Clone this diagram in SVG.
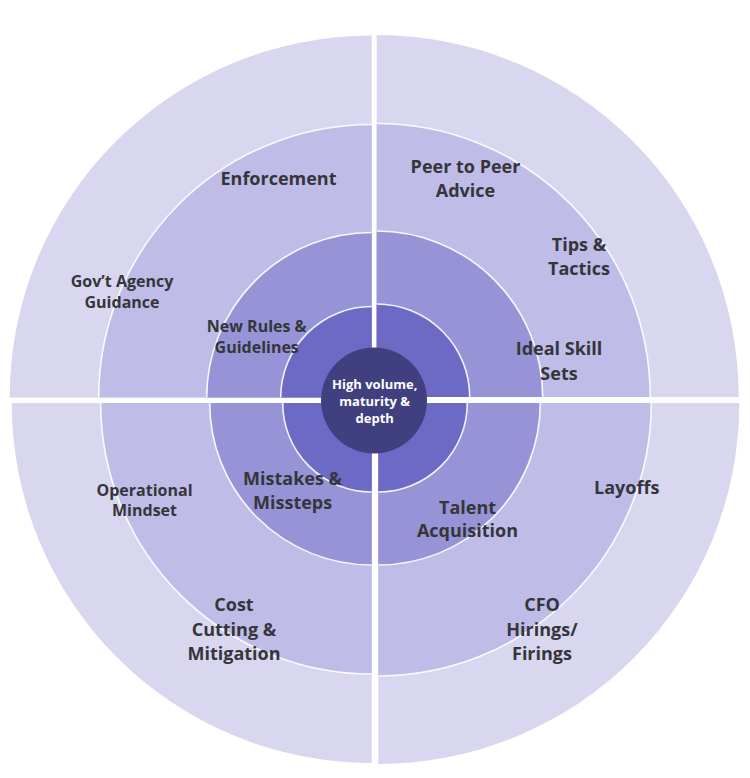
<svg xmlns="http://www.w3.org/2000/svg" width="750" height="778" viewBox="0 0 750 778">
<style>
.r1{fill:#d8d7ef}
.r2{fill:#bfbde7}
.r3{fill:#9694d6}
.r4{fill:#6c6ac4}
.b{fill:none;stroke:#ffffff;stroke-width:1.6;stroke-opacity:0.9}
.t{font-family:"Open Sans","Liberation Sans",sans-serif;font-weight:700;fill:#35353a;text-anchor:middle}
.lg{font-size:18px}
.sm{font-size:16px}
.c{font-family:"Open Sans","Liberation Sans",sans-serif;font-weight:700;fill:#ffffff;text-anchor:middle;font-size:13px}
</style>
<rect width="750" height="778" fill="#ffffff"/>
<g id="quadrant-top-left">
<path class="r1" d="M371.7 397.5 H9.7 A362 362 0 0 1 371.7 35.5 Z"/>
<path class="r2" d="M371.7 397.5 H98.7 A273 273 0 0 1 371.7 124.5 Z"/>
<path class="r3" d="M371.7 397.5 H206.7 A165 165 0 0 1 371.7 232.5 Z"/>
<path class="r4" d="M371.7 397.5 H280.7 A91 91 0 0 1 371.7 306.5 Z"/>
<path class="b" d="M98.7 397.5 A273 273 0 0 1 371.7 124.5 M206.7 397.5 A165 165 0 0 1 371.7 232.5 M280.7 397.5 A91 91 0 0 1 371.7 306.5"/>
<text class="t lg" x="278.5" y="185">Enforcement</text>
<text class="t sm" x="122" y="287">Gov’t Agency</text>
<text class="t sm" x="122" y="307.5">Guidance</text>
<text class="t sm" x="256.7" y="332">New Rules &amp;</text>
<text class="t sm" x="256.7" y="352.5">Guidelines</text>
</g>
<g id="quadrant-top-right">
<path class="r1" d="M376.7 397 V35 A362 362 0 0 1 738.7 397 Z"/>
<path class="r2" d="M376.7 397 V123.5 A273.5 273.5 0 0 1 650.2 397 Z"/>
<path class="r3" d="M376.7 397 V231 A166 166 0 0 1 542.7 397 Z"/>
<path class="r4" d="M376.7 397 V304 A93 93 0 0 1 469.7 397 Z"/>
<path class="b" d="M376.7 123.5 A273.5 273.5 0 0 1 650.2 397 M376.7 231 A166 166 0 0 1 542.7 397 M376.7 304 A93 93 0 0 1 469.7 397"/>
<text class="t lg" x="465.5" y="173">Peer to Peer</text>
<text class="t lg" x="465.5" y="197">Advice</text>
<text class="t lg" x="579" y="251">Tips &amp;</text>
<text class="t lg" x="579" y="275">Tactics</text>
<text class="t lg" x="559" y="354.5">Ideal Skill</text>
<text class="t lg" x="559" y="379.5">Sets</text>
</g>
<g id="quadrant-bottom-right">
<path class="r1" d="M378.3 403 H739.3 A361 361 0 0 1 378.3 764 Z"/>
<path class="r2" d="M378.3 403 H651.3 A273 273 0 0 1 378.3 676 Z"/>
<path class="r3" d="M378.3 403 H540.3 A162 162 0 0 1 378.3 565 Z"/>
<path class="r4" d="M378.3 403 H467.3 A89 89 0 0 1 378.3 492 Z"/>
<path class="b" d="M651.3 403 A273 273 0 0 1 378.3 676 M540.3 403 A162 162 0 0 1 378.3 565 M467.3 403 A89 89 0 0 1 378.3 492"/>
<text class="t lg" x="626.7" y="494">Layoffs</text>
<text class="t lg" x="467.5" y="513.5">Talent</text>
<text class="t lg" x="467.5" y="537">Acquisition</text>
<text class="t lg" x="542" y="611">CFO</text>
<text class="t lg" x="542" y="635.5">Hirings/</text>
<text class="t lg" x="542" y="660">Firings</text>
</g>
<g id="quadrant-bottom-left">
<path class="r1" d="M371.7 403 V763 A360 360 0 0 1 11.7 403 Z"/>
<path class="r2" d="M371.7 403 V674 A271 271 0 0 1 100.7 403 Z"/>
<path class="r3" d="M371.7 403 V565 A162 162 0 0 1 209.7 403 Z"/>
<path class="r4" d="M371.7 403 V492 A89 89 0 0 1 282.7 403 Z"/>
<path class="b" d="M371.7 674 A271 271 0 0 1 100.7 403 M371.7 565 A162 162 0 0 1 209.7 403 M371.7 492 A89 89 0 0 1 282.7 403"/>
<text class="t sm" x="144.5" y="496">Operational</text>
<text class="t sm" x="144.5" y="516">Mindset</text>
<text class="t lg" x="292.6" y="485">Mistakes &amp;</text>
<text class="t lg" x="292.6" y="509">Missteps</text>
<text class="t lg" x="234" y="611">Cost</text>
<text class="t lg" x="234" y="635.5">Cutting &amp;</text>
<text class="t lg" x="234" y="660">Mitigation</text>
</g>
<g id="center">
<circle cx="374" cy="400.5" r="53" fill="#403f80"/>
<text class="c" x="374.7" y="389.3">High volume,</text>
<text class="c" x="374.7" y="406">maturity &amp;</text>
<text class="c" x="374.7" y="422.5">depth</text>
</g>
</svg>
